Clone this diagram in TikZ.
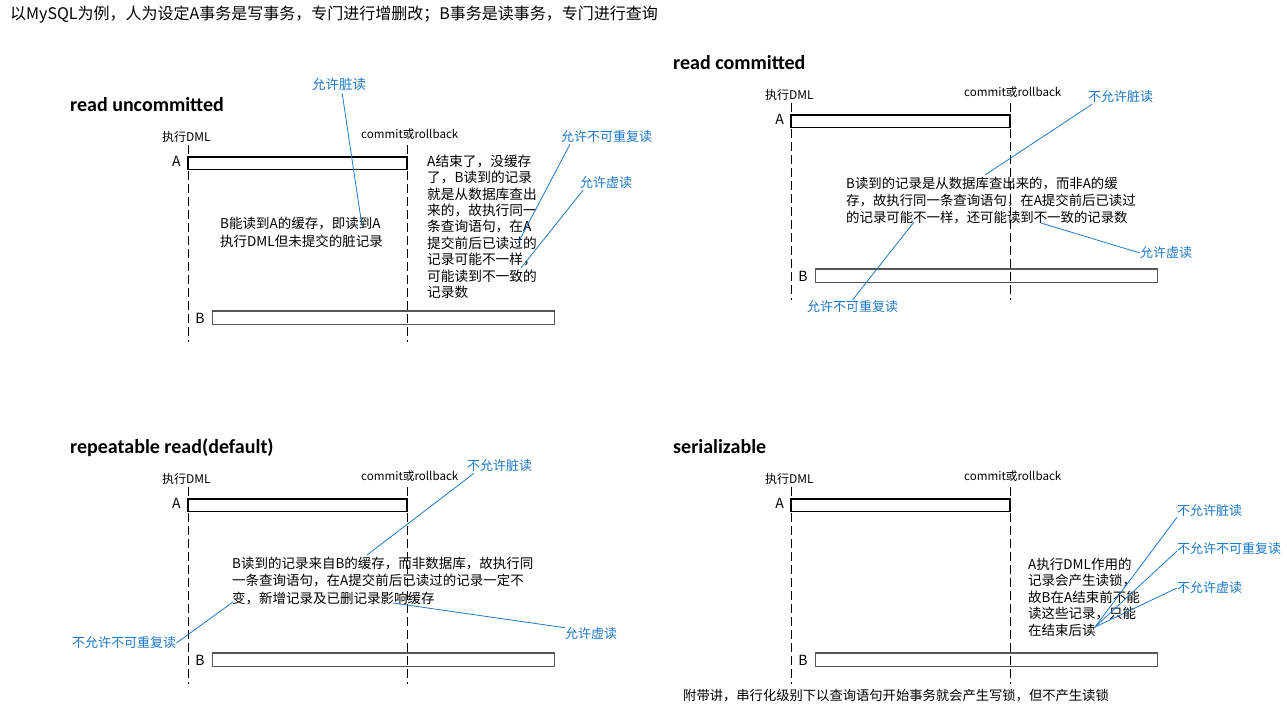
\documentclass[tikz,border=0pt]{standalone}
\usepackage{fontspec}
\setmainfont{Noto Sans CJK SC}
\newfontfamily\ttlfont{Carlito}
\definecolor{lblue}{RGB}{30,120,200}
\definecolor{bgray}{RGB}{85,85,85}
\tikzset{
  abox/.style={draw=black, line width=1.2pt, inner sep=0, outer sep=0},
  bbox/.style={draw=bgray, line width=1.4pt, inner sep=0, outer sep=0},
  dline/.style={draw=black, line width=1pt, dash pattern=on 9pt off 4pt},
  ttl/.style={inner sep=0, anchor=base west, font=\ttlfont\bfseries\fontsize{20}{22}\selectfont},
  sm/.style={inner sep=0, font=\fontsize{12}{14}\selectfont},
  ab/.style={inner sep=0, font=\fontsize{14}{16}\selectfont},
  body/.style={inner sep=0, anchor=north west, align=left},
  blu/.style={inner sep=0, text=lblue, font=\fontsize{13}{15}\selectfont},
  bline/.style={draw=lblue, line width=0.8pt},
}
\newcommand\isopanel[4]{%
\begin{scope}[shift={(#2,#3)}]
  \node[abox, minimum width=219pt, minimum height=12.5pt, anchor=north west] (#1A) at (188,157) {};
  \node[bbox, minimum width=342pt, minimum height=13.5pt, anchor=north west] (#1B) at (212.5,311) {};
  \coordinate (#1l1) at (188,145); \coordinate (#1l2) at (188,342);
  \coordinate (#1r1) at (407,145); \coordinate (#1r2) at (407,342);
  \draw[dline] (#1l1) -- (#1l2);
  \draw[dline] (#1r1) -- (#1r2);
  \node[ttl] (#1T) at (70,111.5) {#4};
  \node[sm, anchor=west] (#1D) at (162,137) {执行DML};
  \node[sm, anchor=west, font=\fontsize{11.6}{14}\selectfont] (#1C) at (361,134) {commit或rollback};
  \node[ab] (#1Al) at (176.5,161) {A};
  \node[ab] (#1Bl) at (200,318) {B};
\end{scope}}
\begin{document}
\begin{tikzpicture}[x=1pt, y=-1pt]
\useasboundingbox (0,0) rectangle (1287,710);
\fill[white] (0,0) rectangle (1287,710);

\node[inner sep=0, anchor=west, font=\fontsize{16}{18}\selectfont] (head) at (10,15)
  {以MySQL为例，人为设定A事务是写事务，专门进行增删改；B事务是读事务，专门进行查询};

\isopanel{p}{0}{0}{read uncommitted}
\isopanel{q}{603}{-42}{read committed}
\isopanel{r}{0}{342}{repeatable read(default)}
\isopanel{s}{603}{342}{serializable}

% ---------- read uncommitted ----------
\node[body, font=\fontsize{13.5}{18}\selectfont] (pt1) at (220,216.5)
  {B能读到A的缓存，即读到A\\执行DML但未提交的脏记录};
\node[body, font=\fontsize{13.7}{16.4}\selectfont] (pt2) at (427,154.5)
  {A结束了，没缓存\\了，B读到的记录\\就是从数据库查出\\来的，故执行同一\\条查询语句，在A\\提交前后已读过的\\记录可能不一样，\\可能读到不一致的\\记录数};
\node[blu, anchor=west, font=\fontsize{13.5}{15}\selectfont] (pu1) at (312,84) {允许脏读};
\node[blu, anchor=west] (pu2) at (561,137) {允许不可重复读};
\node[blu, anchor=west] (pu3) at (580,183) {允许虚读};
\coordinate (pe1) at (362,226);
\coordinate (pe2) at (518,243);
\coordinate (pe3) at (521,268);
\draw[bline] ([xshift=3pt,yshift=-3pt]pu1.south) -- (pe1);
\draw[bline] ([xshift=9pt,yshift=-1pt]pu2.south west) -- (pe2);
\draw[bline] ([xshift=3pt,yshift=-1pt]pu3.south west) -- (pe3);

% ---------- read committed ----------
\node[body, font=\fontsize{13.4}{17}\selectfont] (qt1) at (846,176.5)
  {B读到的记录是从数据库查出来的，而非A的缓\\存，故执行同一条查询语句，在A提交前后已读过\\的记录可能不一样，还可能读到不一致的记录数};
\node[blu, anchor=west] (qu1) at (1088,97) {不允许脏读};
\node[blu, anchor=west] (qu2) at (1140,253) {允许虚读};
\node[blu, anchor=west] (qu3) at (807,307) {允许不可重复读};
\coordinate (qe1) at (985,175);
\coordinate (qe2) at (1041,223);
\coordinate (qe3) at (914,222);
\draw[bline] ([xshift=4pt,yshift=-1pt]qu1.south west) -- (qe1);
\draw[bline] (qe2) -- (qu2.west);
\draw[bline] ([yshift=1pt]qu3.north) -- (qe3);

% ---------- repeatable read ----------
\node[body, font=\fontsize{13.5}{17.5}\selectfont] (rt1) at (232,556.5)
  {B读到的记录来自B的缓存，而非数据库，故执行同\\一条查询语句，在A提交前后已读过的记录一定不\\变，新增记录及已删记录影响缓存};
\node[blu, anchor=west] (ru1) at (467,466) {不允许脏读};
\node[blu, anchor=west] (ru2) at (565,634) {允许虚读};
\node[blu, anchor=west] (ru3) at (72,643) {不允许不可重复读};
\coordinate (re1) at (367,555);
\coordinate (re2) at (393,603);
\coordinate (re3) at (233,602);
\draw[bline] ([xshift=7pt,yshift=-1pt]ru1.south west) -- (re1);
\draw[bline] (re2) -- (ru2.north west);
\draw[bline] (ru3.east) -- (re3);

% ---------- serializable ----------
\node[body, font=\fontsize{13.5}{16.5}\selectfont] (st1) at (1028,557.5)
  {A执行DML作用的\\记录会产生读锁，\\故B在A结束前不能\\读这些记录，只能\\在结束后读};
\node[blu, anchor=west] (su1) at (1177,511) {不允许脏读};
\node[blu, anchor=west] (su2) at (1177,549) {不允许不可重复读};
\node[blu, anchor=west] (su3) at (1177,588) {不允许虚读};
\coordinate (se) at (1095,627);
\draw[bline] (se) -- (su1.south west);
\draw[bline] (se) -- ([yshift=-2pt]su2.west);
\draw[bline] (se) -- (su3.west);

\node[inner sep=0, anchor=west, font=\fontsize{13.3}{16}\selectfont] (foot) at (683,696)
  {附带讲，串行化级别下以查询语句开始事务就会产生写锁，但不产生读锁};
\end{tikzpicture}
\end{document}
